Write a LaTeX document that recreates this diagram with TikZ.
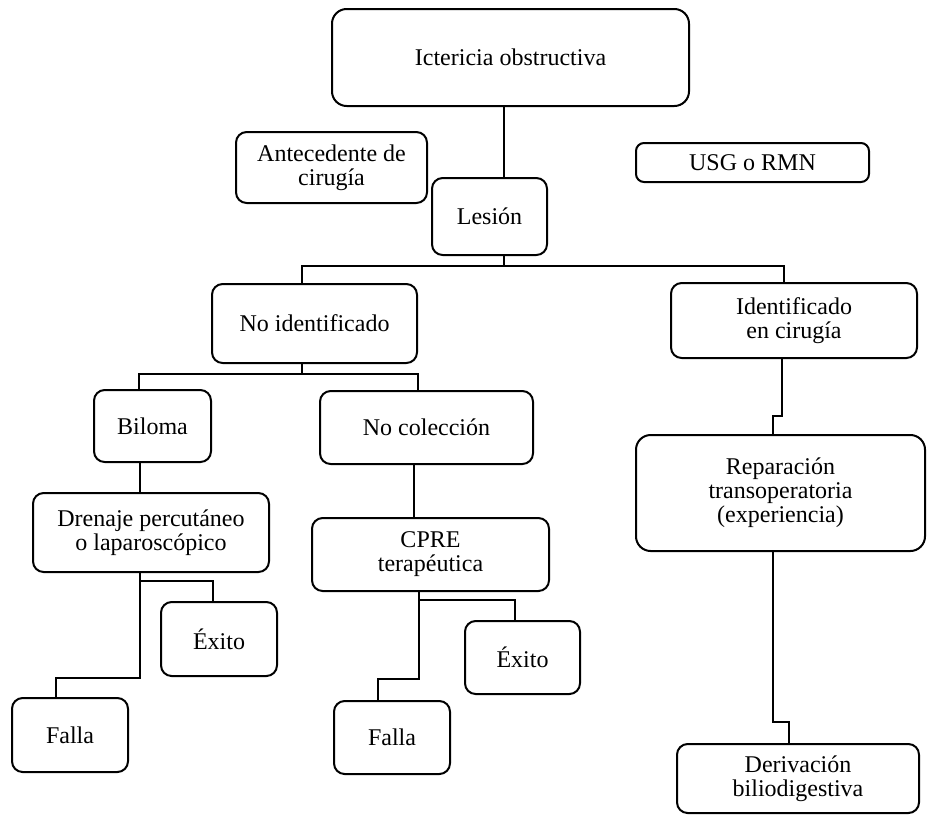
\documentclass[tikz,border=0pt]{standalone}
\usepackage{fontspec}
\setmainfont{Liberation Serif}
\usepackage{tikz}

\tikzset{every picture/.style={line width=1.5pt}}
\tikzset{caja/.style={draw, rounded corners=8pt, align=center, inner sep=0pt, font=\fontsize{18}{18}\selectfont}}

\begin{document}
\begin{tikzpicture}[x=0.75pt,y=0.75pt,yscale=-1,xscale=1]
	\useasboundingbox (0,0) rectangle (927,815);
	
	% Text Node
	\draw (510.5,57.5) node [caja, rounded corners=11pt, minimum width=267.75pt, minimum height=72.75pt] (icter) {Ictericia obstructiva};
	% Text Node
	\draw (331.5,167.5) node [caja, minimum width=143.25pt, minimum height=53.25pt] (antec) {Antecedente de\\cirugía};
	% Text Node
	\draw (489.5,216.5) node [caja, minimum width=86.25pt, minimum height=57.75pt] (lesion) {Lesión};
	% Text Node
	\draw (752.5,162.5) node [caja, rounded corners=6pt, minimum width=174.75pt, minimum height=29.25pt] (usg) {USG o RMN};
	% Text Node
	\draw (314.5,323.5) node [caja, minimum width=153.75pt, minimum height=59.25pt] (noid) {No identificado};
	% Text Node
	\draw (794,320.5) node [caja, minimum width=184.5pt, minimum height=56.25pt] (ident) {Identificado\\en cirugía};
	% Text Node
	\draw (152.5,426) node [caja, minimum width=87.75pt, minimum height=54pt] (biloma) {Biloma};
	% Text Node
	\draw (426.5,427.5) node [caja, minimum width=159.75pt, minimum height=54.75pt] (nocol) {No colección};
	% Text Node
	\draw (151,532.5) node [caja, minimum width=177pt, minimum height=59.25pt] (drenaje) {Drenaje percutáneo\\o laparoscópico};
	% Text Node
	\draw (430.5,554.5) node [caja, minimum width=177.75pt, minimum height=54.75pt] (cpre) {CPRE\\terapéutica};
	% Text Node
	\draw (219,639) node [caja, minimum width=87pt, minimum height=55.5pt] (exito1) {Éxito};
	% Text Node
	\draw (70,735) node [caja, minimum width=87pt, minimum height=55.5pt] (falla1) {Falla};
	% Text Node
	\draw (522.5,657.5) node [caja, minimum width=86.25pt, minimum height=54.75pt] (exito2) {Éxito};
	% Text Node
	\draw (392,737.5) node [caja, minimum width=87pt, minimum height=54.75pt] (falla2) {Falla};
	% Text Node
	\draw (780.5,493) node [caja, rounded corners=11pt, minimum width=216.75pt, minimum height=87pt] (repar) {Reparación\\transoperatoria\\(experiencia)};
	% Text Node
	\draw (798,778.5) node [caja, minimum width=181.5pt, minimum height=51.75pt] (deriv) {Derivación\\biliodigestiva};
	
	% Straight Lines
	\draw (icter.south -| 504,0) -- (lesion.north -| 504,0);
	\draw (lesion.south -| 504,0) -- (504,265.5);
	\draw (noid.north -| 302,0) |- (784,265.5) -- (ident.north -| 784,0);
	% Straight Lines
	\draw (noid.south -| 302,0) -- (302,374);
	\draw (biloma.north -| 139,0) |- (418,374) -- (nocol.north -| 418,0);
	\draw (biloma.south -| 140,0) -- (drenaje.north -| 140,0);
	\draw (nocol.south -| 414,0) -- (cpre.north -| 414,0);
	% Straight Lines
	\draw (drenaje.south -| 140,0) -- (140,678) -| (falla1.north -| 56,0);
	\draw (140,581) -| (exito1.north -| 213,0);
	\draw (cpre.south -| 419,0) -- (419,679) -| (falla2.north -| 378,0);
	\draw (419,600) -| (exito2.north -| 515,0);
	% Straight Lines
	\draw (ident.south -| 782,0) -- (782,416) -| (repar.north -| 773,0);
	\draw (repar.south -| 773,0) -- (773,722) -| (deriv.north -| 789,0);
	
\end{tikzpicture}
\end{document}
